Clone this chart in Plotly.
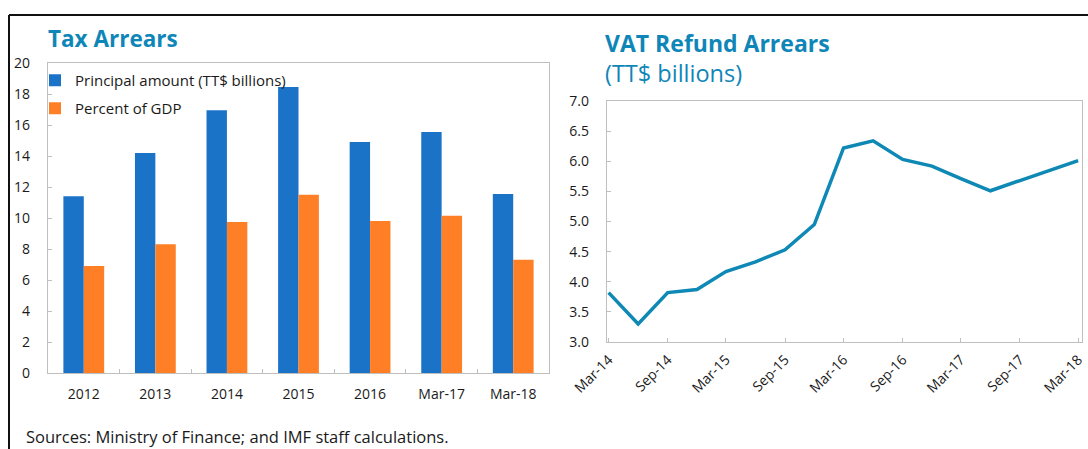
import plotly.graph_objects as go

# ---- data ----
tax_categories = ["2012", "2013", "2014", "2015", "2016", "Mar-17", "Mar-18"]
principal_amount = [11.4, 14.2, 16.95, 18.45, 14.9, 15.55, 11.55]
percent_of_gdp = [6.9, 8.3, 9.75, 11.5, 9.8, 10.15, 7.3]

vat_dates = ["2014-03-01", "2014-06-01", "2014-09-01", "2014-12-01",
             "2015-03-01", "2015-06-01", "2015-09-01", "2015-12-01",
             "2016-03-01", "2016-06-01", "2016-09-01", "2016-12-01",
             "2017-03-01", "2017-06-01", "2017-09-01", "2017-12-01",
             "2018-03-01"]
vat_refund_arrears = [3.82, 3.30, 3.82, 3.87, 4.17, 4.33, 4.53, 4.95,
                      6.22, 6.34, 6.03, 5.92, 5.71, 5.51, 5.68, 5.85, 6.01]

W, H = 1088, 449
FONT = "Open Sans"
TITLE_C = "#0F86B8"
GRID_C = "#BFBFBF"
TEXT_C = "#1a1a1a"


def px(x):
    return x / W


def py(y):
    return 1 - y / H


fig = go.Figure()

fig.add_trace(go.Bar(x=tax_categories, y=principal_amount, name="Principal amount (TT$ billions)",
                     marker=dict(color="#1B73C8", line=dict(width=0)), xaxis="x", yaxis="y",
                     legend="legend"))
fig.add_trace(go.Bar(x=tax_categories, y=percent_of_gdp, name="Percent of GDP",
                     marker=dict(color="#FF7F27", line=dict(width=0)), xaxis="x", yaxis="y",
                     legend="legend2"))
fig.add_trace(go.Scatter(x=vat_dates, y=vat_refund_arrears, mode="lines", name="VAT refund arrears",
                         line=dict(color="#0E88B5", width=3.5), xaxis="x2", yaxis="y2",
                         showlegend=False))

axis_common = dict(showline=True, linecolor=GRID_C, linewidth=1.3, mirror=True, showgrid=False,
                   zeroline=False, ticks="inside", ticklen=4, tickcolor=GRID_C, automargin=False,
                   tickfont=dict(family=FONT, size=14, color=TEXT_C))

fig.update_layout(
    width=W, height=H,
    margin=dict(l=0, r=0, t=0, b=0, autoexpand=False),
    paper_bgcolor="white", plot_bgcolor="white",
    barmode="group", bargap=0.43, bargroupgap=0,
    font=dict(family=FONT, color=TEXT_C),
    xaxis=dict(domain=[px(48), px(549)], anchor="y", type="category", tickson="boundaries",
               ticklabelstandoff=8, **axis_common),
    yaxis=dict(domain=[py(373), py(63)], anchor="x", range=[0, 20], dtick=2,
               ticklabelstandoff=14, **axis_common),
    xaxis2=dict(domain=[px(607), px(1082)], anchor="y2", type="date",
                range=["2014-02-24", "2018-03-13"], tick0="2014-03-01", dtick="M6",
                tickformat="%b-%y", tickangle=-45, ticklabelstandoff=3, **axis_common),
    yaxis2=dict(domain=[py(342), py(101)], anchor="x2", range=[3, 7], dtick=0.5,
                tickformat=".1f", ticklabelstandoff=14, **axis_common),
    legend=dict(x=px(35), y=py(64), xanchor="left", yanchor="top", bgcolor="rgba(0,0,0,0)",
                font=dict(family=FONT, size=15, color=TEXT_C), borderwidth=0),
    legend2=dict(x=px(35), y=py(92), xanchor="left", yanchor="top", bgcolor="rgba(0,0,0,0)",
                 font=dict(family=FONT, size=15, color=TEXT_C), borderwidth=0),
    showlegend=True,
)

fig.add_annotation(text="<b>Tax Arrears</b>", x=px(46), y=py(38), xref="paper", yref="paper",
                   xanchor="left", yanchor="middle", showarrow=False,
                   font=dict(family=FONT, size=22.5, color=TITLE_C))
fig.add_annotation(text="<b>VAT Refund Arrears</b>", x=px(603), y=py(43), xref="paper", yref="paper",
                   xanchor="left", yanchor="middle", showarrow=False,
                   font=dict(family=FONT, size=23, color=TITLE_C))
fig.add_annotation(text="(TT$ billions)", x=px(603), y=py(73), xref="paper", yref="paper",
                   xanchor="left", yanchor="middle", showarrow=False,
                   font=dict(family=FONT, size=23.5, color=TITLE_C))
fig.add_annotation(text="Sources: Ministry of Finance; and IMF staff calculations.", x=px(24), y=py(436),
                   xref="paper", yref="paper", xanchor="left", yanchor="middle", showarrow=False,
                   font=dict(family=FONT, size=16.5, color=TEXT_C))

# outer frame (top and left edges)
fig.add_shape(type="line", xref="paper", yref="paper", x0=px(9), x1=1, y0=py(15), y1=py(15),
              line=dict(color="#111111", width=2))
fig.add_shape(type="line", xref="paper", yref="paper", x0=px(9), x1=px(9), y0=py(15), y1=0,
              line=dict(color="#111111", width=2))

fig.write_html("out.html", config={"displayModeBar": False},
               post_script="document.body.style.margin='0px';document.body.style.overflow='hidden';")
